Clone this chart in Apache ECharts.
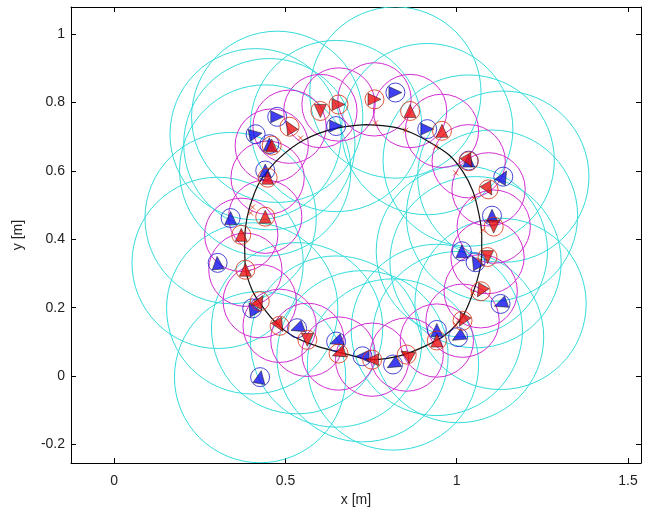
<!DOCTYPE html>
<html>
<head>
<meta charset="utf-8">
<script src="https://cdn.jsdelivr.net/npm/echarts@6/dist/echarts.min.js"></script>
<style>
  html, body { margin: 0; padding: 0; background: #fff; }
  #chart { width: 646px; height: 513px; }
</style>
</head>
<body>
<div id="chart"></div>
<script>
// Axis ticks
const xTicks = [0, 0.5, 1, 1.5];
const yTicks = [-0.2, 0, 0.2, 0.4, 0.6, 0.8, 1];

// Estimated agent positions (blue) with heading in degrees
const blueX = [0.476, 0.413, 0.453, 0.441, 0.340, 0.302, 0.403, 0.534, 0.648, 0.725, 0.814, 0.942,
               1.004, 1.128, 1.055, 1.015, 1.103, 1.136, 1.035, 0.914, 0.821, 0.648, 0.426];
const blueY = [0.758, 0.707, 0.678, 0.601, 0.462, 0.331, 0.198, 0.140, 0.101, 0.058, 0.034, 0.135,
               0.114, 0.211, 0.333, 0.365, 0.469, 0.583, 0.630, 0.722, 0.829, 0.731, -0.003];
const blueHeading = [0, 10, 90, 90, 90, 95, 120, 200, 200, 180, 210, 90,
                     210, 200, 120, 90, 90, 60, 90, 0, 0, 0, 80];

// True agent positions (red) with heading in degrees
const redX = [0.512, 0.460, 0.448, 0.441, 0.371, 0.383, 0.425, 0.483, 0.564, 0.655, 0.753, 0.854,
              0.942, 1.017, 1.070, 1.090, 1.108, 1.093, 1.035, 0.957, 0.864, 0.760, 0.655, 0.602];
const redY = [0.729, 0.674, 0.580, 0.466, 0.413, 0.311, 0.219, 0.147, 0.106, 0.066, 0.048, 0.063,
              0.104, 0.162, 0.248, 0.348, 0.437, 0.546, 0.628, 0.717, 0.775, 0.809, 0.794, 0.775];
const redHeading = [120, 90, 90, 90, 90, 90, 60, 300, 270, 200, 180, 150,
                    90, 240, 240, 270, 270, 300, 300, 90, 90, 0, 0, 270];

// Sensing radii [m]
const blueRange = 0.25;
const redRange = 0.107;

// Reference trajectory
const pathX = [0.735, 0.816, 0.866, 0.926, 0.977, 1.017, 1.047, 1.065, 1.073, 1.073, 1.065, 1.047,
               1.017, 0.967, 0.906, 0.836, 0.755, 0.665, 0.594, 0.524, 0.473, 0.433, 0.403, 0.383,
               0.381, 0.388, 0.408, 0.433, 0.483, 0.554, 0.645, 0.735];
const pathY = [0.735, 0.728, 0.712, 0.681, 0.647, 0.599, 0.541, 0.473, 0.415, 0.357, 0.300, 0.242,
               0.174, 0.121, 0.087, 0.060, 0.048, 0.068, 0.087, 0.116, 0.155, 0.203, 0.251, 0.319,
               0.396, 0.464, 0.531, 0.580, 0.638, 0.690, 0.724, 0.735];

// Waypoint marks along the trajectory
const markX = [0.763, 0.851, 0.939, 0.997, 1.050, 1.076, 1.067, 1.047, 1.006, 0.398, 0.377, 0.392,
               0.544, 0.404, 0.413, 0.479, 0.665, 0.846, 0.997];
const markY = [0.740, 0.719, 0.670, 0.594, 0.520, 0.427, 0.339, 0.243, 0.164, 0.477, 0.418, 0.304,
               0.696, 0.494, 0.217, 0.155, 0.072, 0.068, 0.150];

const zip = (a, b) => a.map((v, i) => [v, b[i]]);
const zip3 = (a, b, c) => a.map((v, i) => [v, b[i], c[i]]);

function ringSeries(name, xs, ys, radius, color, z) {
  return {
    name, type: 'custom', coordinateSystem: 'cartesian2d', clip: true, z, silent: true,
    data: zip(xs, ys),
    renderItem: (params, api) => {
      const c = api.coord([api.value(0), api.value(1)]);
      const r = api.size([radius, radius])[0];
      return { type: 'circle', shape: { cx: c[0], cy: c[1], r },
               style: { fill: 'none', stroke: color, lineWidth: 1 } };
    }
  };
}

function agentSeries(name, xs, ys, hs, fill, ring, z) {
  return [
    {
      name: name + ' ring', type: 'scatter', z, silent: true,
      data: zip(xs, ys), symbol: 'circle', symbolSize: 19,
      itemStyle: { color: 'rgba(255,255,255,0)', borderColor: ring, borderWidth: 1 }
    },
    {
      name: name, type: 'scatter', z: z + 1, silent: true,
      data: zip3(xs, ys, hs), symbol: 'triangle', symbolSize: [12, 13],
      symbolRotate: (v) => v[2] - 90,
      itemStyle: { color: fill, borderColor: '#111', borderWidth: 0.6 }
    }
  ];
}

const font = 'Liberation Sans, Arial, sans-serif';
const axisCommon = {
  type: 'value',
  axisLine: { show: true, onZero: false, lineStyle: { color: '#000', width: 1 } },
  splitLine: { show: false },
  axisLabel: { color: '#222', fontFamily: font, fontSize: 14 }
};

const xMin = -0.126, xMax = 1.538, yMin = -0.254, yMax = 1.079;

const chart = echarts.init(document.getElementById('chart'), null, { renderer: 'canvas' });
chart.setOption({
  animation: false,
  backgroundColor: '#fff',
  grid: { left: 71, right: 5, top: 7, bottom: 50, show: false },
  xAxis: [
    Object.assign({}, axisCommon, {
      position: 'bottom', min: xMin, max: xMax,
      axisTick: { inside: true, length: 5, customValues: xTicks, lineStyle: { color: '#000' } },
      axisLabel: Object.assign({}, axisCommon.axisLabel, { customValues: xTicks, margin: 11 }),
      name: 'x [m]', nameLocation: 'middle', nameGap: 29,
      nameTextStyle: { color: '#222', fontFamily: font, fontSize: 14 }
    }),
    Object.assign({}, axisCommon, {
      position: 'top', min: xMin, max: xMax,
      axisTick: { inside: true, length: 5, customValues: xTicks, lineStyle: { color: '#000' } },
      axisLabel: { show: false }
    })
  ],
  yAxis: [
    Object.assign({}, axisCommon, {
      position: 'left', min: yMin, max: yMax,
      axisTick: { inside: true, length: 5, customValues: yTicks, lineStyle: { color: '#000' } },
      axisLabel: Object.assign({}, axisCommon.axisLabel, { customValues: yTicks, margin: 6 }),
      name: 'y [m]', nameLocation: 'middle', nameGap: 46, nameRotate: 90,
      nameTextStyle: { color: '#222', fontFamily: font, fontSize: 14 }
    }),
    Object.assign({}, axisCommon, {
      position: 'right', min: yMin, max: yMax,
      axisTick: { inside: true, length: 5, customValues: yTicks, lineStyle: { color: '#000' } },
      axisLabel: { show: false }
    })
  ],
  series: [
    ringSeries('blue range', blueX, blueY, blueRange, '#35dcdc', 1),
    ringSeries('red range', redX, redY, redRange, '#d22ed2', 2),
    {
      name: 'trajectory', type: 'line', z: 3, silent: true,
      data: zip(pathX, pathY), showSymbol: false, smooth: 0.3,
      lineStyle: { color: '#111', width: 1.2 }
    },
    {
      name: 'waypoints', type: 'scatter', z: 4, silent: true,
      data: zip(markX, markY), symbol: 'path://M0,0L10,10M10,0L0,10', symbolSize: 5,
      itemStyle: { color: 'rgba(0,0,0,0)', borderColor: '#e03010', borderWidth: 1 }
    },
    ...agentSeries('estimate', blueX, blueY, blueHeading, '#1010ee', '#1a1acc', 5),
    ...agentSeries('true', redX, redY, redHeading, '#ee1010', '#d83010', 7)
  ]
});
</script>
</body>
</html>
